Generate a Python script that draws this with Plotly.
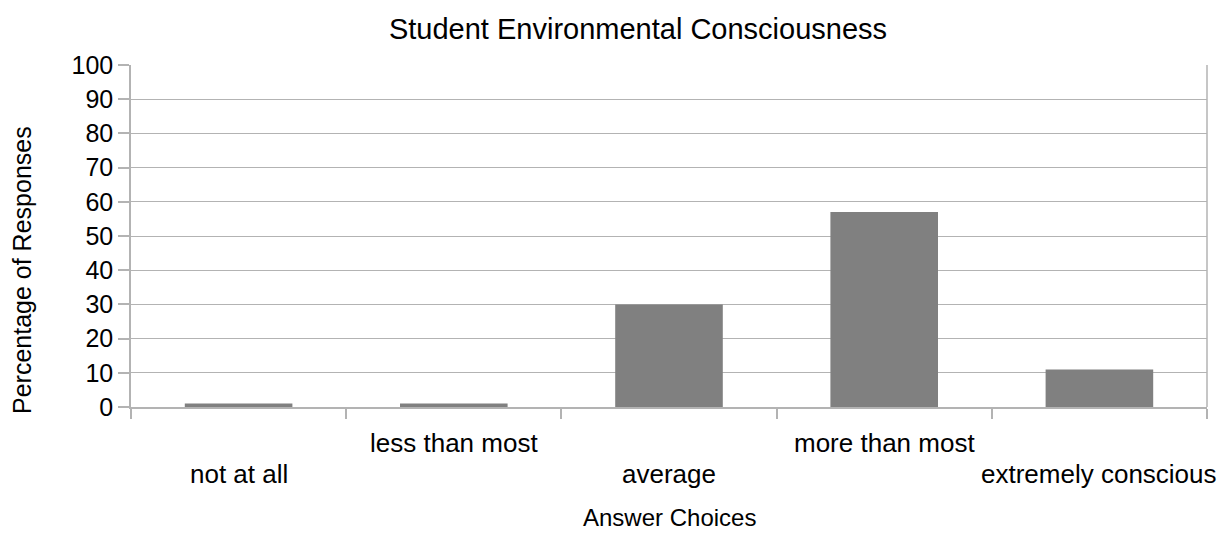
import plotly.graph_objects as go

categories = ["not at all", "less than most", "average", "more than most", "extremely conscious"]
values = [1, 1, 30, 57, 11]
y_ticks = list(range(0, 101, 10))

FONT = "Liberation Sans, Arial, sans-serif"
GRID = "#b3b3b3"

# the page body has an 8px margin; keep the figure inside the window so nothing overflows
OFF = 8
W, H = 1225 - 2 * OFF, 538 - 2 * OFF
L, R, T, B = 131 - OFF, 1207 - OFF, 65 - OFF, 407 - OFF   # plot area in figure pixels
PW, PH = R - L, B - T

fig = go.Figure()
fig.add_trace(go.Bar(x=categories, y=values, marker=dict(color="#808080", line=dict(width=0)),
                     width=0.5, showlegend=False))

# staggered category labels
for i, c in enumerate(categories):
    fig.add_annotation(x=c, xref="x", y=0, yref="paper", text=c, showarrow=False,
                       yanchor="top", xanchor="center",
                       yshift=(-19 if i % 2 else -50),
                       font=dict(family=FONT, size=26, color="#000000"))

# right border of plot area
fig.add_shape(type="line", xref="paper", yref="paper", x0=1, x1=1, y0=0, y1=1,
              line=dict(color=GRID, width=1.5))

# axis titles
fig.add_annotation(x=0.5, xref="paper", y=(B - (518 - OFF)) / PH, yref="paper",
                   text="Answer Choices", showarrow=False, yanchor="middle", xanchor="center",
                   font=dict(family=FONT, size=24, color="#000000"))
fig.add_annotation(x=((22 - OFF) - L) / PW, xref="paper", y=(B - (270 - OFF)) / PH, yref="paper",
                   text="Percentage of Responses", showarrow=False, textangle=-90,
                   yanchor="middle", xanchor="center",
                   font=dict(family=FONT, size=25, color="#000000"))

fig.update_layout(
    width=W, height=H, autosize=False,
    margin=dict(l=L, r=W - R, t=T, b=H - B, pad=0, autoexpand=False),
    paper_bgcolor="white", plot_bgcolor="white",
    title=dict(text="Student Environmental Consciousness", x=(638 - OFF) / W, xref="container",
               xanchor="center", y=1 - (29 - OFF) / H, yref="container", yanchor="middle",
               font=dict(family=FONT, size=29, color="#000000")),
    font=dict(family=FONT, color="#000000"),
    xaxis=dict(showticklabels=False, tickson="boundaries", ticks="outside", ticklen=10,
               range=[-0.5, len(categories) - 0.5], autorange=False,
               tickcolor=GRID, tickwidth=1.5, showline=True, linecolor=GRID, linewidth=1.5,
               showgrid=False, zeroline=False, automargin=False),
    yaxis=dict(range=[0, 100], tickvals=y_ticks, ticks="outside", ticklen=11, tickcolor=GRID,
               tickwidth=1.5, showline=True, linecolor=GRID, linewidth=1.5,
               gridcolor=GRID, gridwidth=1.2, zeroline=False, automargin=False,
               tickfont=dict(family=FONT, size=25)),
)

fig.write_html("out.html")
